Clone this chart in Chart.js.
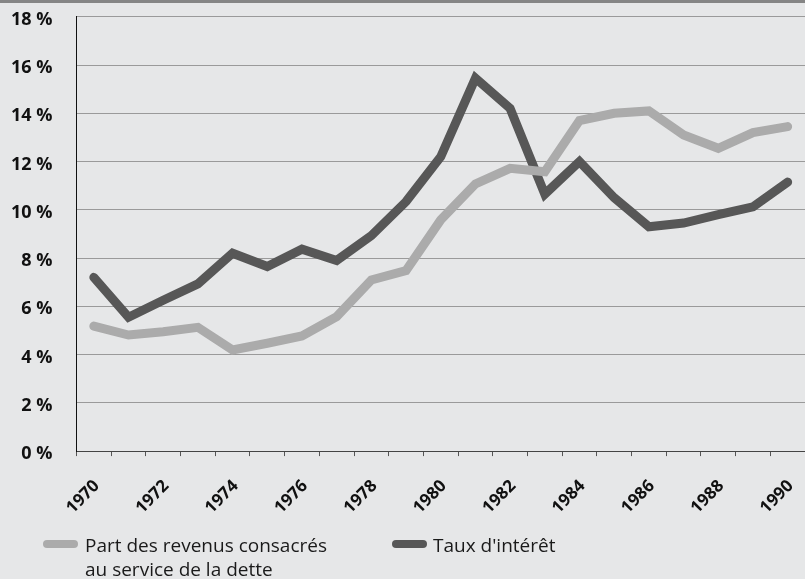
<!DOCTYPE html>
<html>
  <head>
    <meta charset="utf-8">
    <title>Service de la dette et taux d'intérêt</title>
    <script src="https://cdn.jsdelivr.net/npm/chart.js@4/dist/chart.umd.min.js"></script>
    <style>
      html, body { margin: 0; padding: 0; background: #e6e7e8; overflow: hidden; }
      #wrap { position: relative; width: 805px; height: 579px; overflow: hidden; }
      #topbar { position: absolute; left: 0; top: 0; width: 805px; height: 3px; background: #858585; z-index: 2; }
      #chartBox { position: absolute; left: 0; top: -18px; width: 805px; height: 556px; }
      #legend { position: absolute; left: 0; top: 533px; width: 805px; font-family: "Open Sans", sans-serif; font-size: 19px; color: #1a1a1a; }
      .item { position: absolute; top: 0; line-height: 24px; white-space: nowrap; }
      .swatch { position: absolute; top: 7px; width: 35px; height: 8px; border-radius: 4px; }
    </style>
  </head>
  <body>
    <div id="wrap">
      <div id="chartBox"><canvas id="myChart"></canvas></div>
      <div id="topbar"></div>
      <div id="legend"></div>
    </div>
    <script>
      // years on the x axis, one category per year
      var years = ['1970', '1971', '1972', '1973', '1974', '1975', '1976', '1977', '1978', '1979', '1980',
        '1981', '1982', '1983', '1984', '1985', '1986', '1987', '1988', '1989', '1990'];

      // share of revenue spent on debt service (%)
      var debtService = [5.18, 4.81, 4.95, 5.13, 4.19, 4.47, 4.77, 5.57, 7.09, 7.48, 9.58,
        11.07, 11.72, 11.58, 13.7, 14.0, 14.1, 13.1, 12.55, 13.2, 13.45];

      // interest rate (%)
      var interestRate = [7.2, 5.55, 6.25, 6.93, 8.2, 7.65, 8.37, 7.9, 8.93, 10.34, 12.2,
        15.46, 14.2, 10.65, 12.0, 10.5, 9.3, 9.45, 9.8, 10.12, 11.15];

      var yTicks = [0, 2, 4, 6, 8, 10, 12, 14, 16, 18];

      var seriesNames = ['Part des revenus consacrés\nau service de la dette', "Taux d'intérêt"];
      var seriesColors = ['#ababab', '#575757'];

      var ctx = document.getElementById('myChart').getContext('2d');

      var myChart = new Chart(ctx, {
        type: 'line',
        data: {
          labels: years,
          datasets: [{
            label: seriesNames[0],
            data: debtService,
            borderColor: seriesColors[0],
            backgroundColor: seriesColors[0],
            borderWidth: 9,
            borderCapStyle: 'round',
            pointRadius: 0,
            tension: 0
          }, {
            label: seriesNames[1],
            data: interestRate,
            borderColor: seriesColors[1],
            backgroundColor: seriesColors[1],
            borderWidth: 9,
            borderCapStyle: 'round',
            pointRadius: 0,
            tension: 0
          }]
        },
        options: {
          responsive: true,
          maintainAspectRatio: false,
          animation: false,
          layout: { padding: { left: -13, right: 0, top: 0, bottom: 0 } },
          plugins: {
            legend: { display: false },
            tooltip: { enabled: false }
          },
          scales: {
            x: {
              type: 'category',
              offset: true,
              // rotated labels fit inside the y axis area, no extra side padding needed
              afterFit: function (scale) {
                scale.paddingLeft = 0;
                scale.paddingRight = 0;
              },
              grid: {
                offset: true,
                drawOnChartArea: false,
                drawTicks: true,
                tickLength: 5,
                color: '#555'
              },
              border: { display: true, color: '#444', width: 1 },
              ticks: {
                autoSkip: false,
                maxRotation: 45,
                minRotation: 45,
                padding: 20,
                labelOffset: 3,
                color: '#111',
                font: { family: '"Open Sans", sans-serif', size: 17, weight: 'bold' },
                callback: function (value, index) {
                  return index % 2 === 0 ? years[index] : '';
                }
              }
            },
            y: {
              min: 0,
              max: 18,
              afterBuildTicks: function (scale) {
                scale.ticks = yTicks.map(function (v) { return { value: v }; });
              },
              grid: { color: '#9a9a9a', lineWidth: 1, drawTicks: false },
              border: { display: true, color: '#111', width: 1 },
              ticks: {
                padding: 24,
                labelOffset: 3,
                color: '#111',
                font: { family: '"Open Sans", sans-serif', size: 18, weight: 'bold' },
                callback: function (value) { return value + ' %'; }
              }
            }
          }
        }
      });

      // legend drawn as html so the first label can wrap on two lines
      var legendPos = [{ swatch: 43, text: 85 }, { swatch: 392, text: 433 }];
      var legend = document.getElementById('legend');
      seriesNames.forEach(function (name, i) {
        var item = document.createElement('div');
        item.className = 'item';
        item.style.left = legendPos[i].text + 'px';
        item.innerHTML = name.replace('\n', '<br>');
        var sw = document.createElement('div');
        sw.className = 'swatch';
        sw.style.left = legendPos[i].swatch + 'px';
        sw.style.background = seriesColors[i];
        legend.appendChild(sw);
        legend.appendChild(item);
      });
    </script>
  </body>
</html>
